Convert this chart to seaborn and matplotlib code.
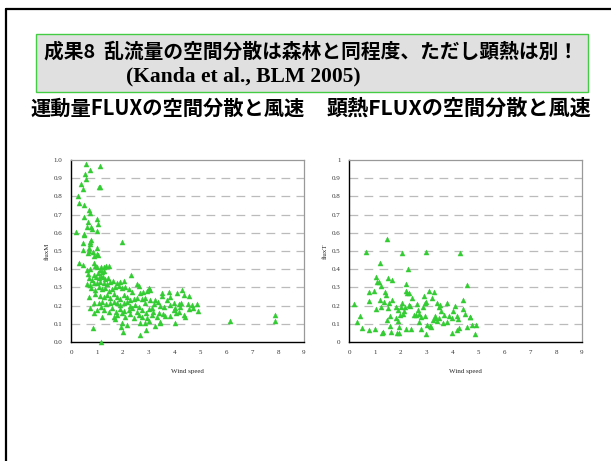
import matplotlib
matplotlib.use("Agg")
import matplotlib.pyplot as plt
import seaborn as sns
import pandas as pd
from matplotlib.lines import Line2D
from matplotlib.patches import Rectangle

# ---- data: spatial dispersion of momentum flux (fluxM) vs wind speed ----
wind_m = [
    0.59, 1.12, 0.75, 0.53, 0.59, 0.39, 0.46, 1.07, 1.11, 0.28, 0.32, 0.51, 0.68,
    0.75, 0.49, 1.00, 0.64, 1.03, 0.62, 0.77, 0.80, 1.00, 0.21, 0.49, 0.51, 0.77,
    0.75, 1.97, 0.46, 0.72, 0.69, 1.00, 0.45, 0.71, 0.85, 0.67, 1.00, 1.05, 0.88,
    0.29, 0.45, 0.87, 0.94, 1.00, 1.16, 1.26, 1.35, 1.48,
    0.62, 0.75, 0.64, 1.11, 1.20, 1.26, 1.05, 2.32,
    0.68, 0.81, 0.98, 1.07, 1.16, 1.23, 1.32, 1.41, 0.87,
    0.62, 0.75, 0.90, 1.00, 1.11, 1.26, 1.39, 1.52, 1.62, 1.77, 1.90, 2.03, 2.55,
    2.61, 3.00, 3.06,
    0.77, 0.94, 1.07, 1.20, 1.32, 1.45, 1.58, 1.71, 1.84, 1.97, 2.10, 2.23, 2.35,
    2.68, 2.80, 2.93, 3.51, 3.77, 4.09, 4.28, 4.35, 4.57,
    0.68, 0.94, 1.13, 1.26, 1.39, 1.52, 1.65, 1.77, 1.90, 2.03, 2.16, 2.29, 2.42,
    2.55, 2.74, 2.87, 3.06, 3.25, 3.35, 3.51, 3.71, 3.83, 3.99, 4.16, 4.25, 4.50,
    0.87, 1.07, 1.20, 1.36, 1.49, 1.65, 1.77, 1.90, 2.03, 2.16, 2.29, 2.48, 2.61,
    2.87, 3.13, 3.19, 3.45, 3.60, 3.83, 4.03, 4.22, 4.67, 4.86, 4.71,
    0.75, 1.00, 1.16, 1.26, 1.45, 1.58, 1.75, 1.90, 2.03, 2.23, 2.35, 2.55, 2.74,
    2.91, 3.00, 3.17, 3.38, 3.55, 3.64, 3.96, 4.16, 4.54, 4.89,
    0.87, 1.20, 1.65, 1.77, 1.97, 2.10, 2.29, 2.42, 2.61, 2.74, 2.93, 3.13, 3.32,
    3.45, 3.83, 4.07, 4.35, 4.41, 6.13,
    1.71, 1.97, 2.16, 2.68, 2.87, 3.00, 3.25, 3.45, 4.03,
    0.85, 1.93, 2.01, 2.91, 2.65, 1.16,
    7.88, 7.88,
]
flux_m = [
    0.978, 0.967, 0.945, 0.923, 0.894, 0.870, 0.839, 0.853, 0.853, 0.804, 0.766,
    0.753, 0.725, 0.710, 0.689, 0.674, 0.661, 0.648, 0.630, 0.630, 0.619, 0.612,
    0.603, 0.593, 0.588, 0.560, 0.550, 0.548, 0.542, 0.538, 0.515, 0.516, 0.505,
    0.502, 0.496, 0.487, 0.484, 0.476, 0.473,
    0.436, 0.425, 0.432, 0.418, 0.414, 0.410, 0.414, 0.418, 0.419,
    0.396, 0.399, 0.374, 0.396, 0.386, 0.392, 0.377, 0.368,
    0.350, 0.341, 0.359, 0.350, 0.363, 0.355, 0.344, 0.350, 0.368,
    0.319, 0.313, 0.326, 0.322, 0.332, 0.326, 0.319, 0.332, 0.337, 0.322, 0.332,
    0.337, 0.319, 0.308, 0.295, 0.286,
    0.295, 0.286, 0.300, 0.290, 0.295, 0.282, 0.290, 0.300, 0.308, 0.295, 0.304,
    0.290, 0.276, 0.271, 0.276, 0.282, 0.267, 0.276, 0.267, 0.286, 0.258, 0.255,
    0.249, 0.264, 0.253, 0.245, 0.258, 0.240, 0.264, 0.249, 0.234, 0.258, 0.245,
    0.231, 0.234, 0.240, 0.234, 0.240, 0.231, 0.231, 0.222, 0.253, 0.231, 0.245,
    0.212, 0.207, 0.216, 0.209,
    0.216, 0.212, 0.222, 0.209, 0.216, 0.222, 0.212, 0.203, 0.212, 0.222, 0.198,
    0.203, 0.194, 0.212, 0.185, 0.209, 0.198, 0.194, 0.203, 0.185, 0.194, 0.203,
    0.209, 0.185,
    0.185, 0.176, 0.190, 0.176, 0.167, 0.185, 0.167, 0.180, 0.172, 0.176, 0.185,
    0.167, 0.176, 0.161, 0.180, 0.167, 0.157, 0.154, 0.143, 0.176, 0.167, 0.180,
    0.172,
    0.157, 0.136, 0.139, 0.148, 0.157, 0.139, 0.154, 0.130, 0.148, 0.139, 0.130,
    0.148, 0.135, 0.112, 0.143, 0.161, 0.148, 0.139, 0.117,
    0.124, 0.103, 0.093, 0.106, 0.106, 0.117, 0.088, 0.102, 0.102,
    0.075, 0.081, 0.057, 0.066, 0.038, 0.000,
    0.150, 0.115,
]

# ---- data: spatial dispersion of sensible heat flux (fluxT) vs wind speed ----
wind_t = [
    0.20, 0.29, 0.44, 0.52, 0.67, 0.76, 0.78, 0.76, 0.97, 0.99, 1.03, 1.06, 1.10,
    1.16, 1.19, 1.23, 1.19, 1.25, 1.29, 1.34, 1.32, 1.38, 1.42, 1.45, 1.49, 1.47,
    1.51, 1.54, 1.58, 1.61, 1.58, 1.65, 1.68, 1.81, 1.83, 1.86, 1.90, 1.94, 1.91,
    1.94, 1.96, 1.99, 2.03, 2.03, 2.07, 2.12, 2.16, 2.20, 2.22, 2.20, 2.25, 2.27,
    2.30, 2.33, 2.35, 2.38, 2.43, 2.51, 2.58, 2.63, 2.67, 2.71, 2.71, 2.78, 2.79,
    2.87, 2.89, 2.93, 2.94, 2.97, 2.99, 2.99, 3.02, 3.10, 3.13, 3.16, 3.22, 3.25,
    3.28, 3.31, 3.33, 3.38, 3.41, 3.46, 3.49, 3.51, 3.55, 3.64, 3.67, 3.77, 3.80,
    3.85, 3.98, 4.00, 3.98, 4.09, 4.16, 4.18, 4.21, 4.26, 4.29, 4.39, 4.42, 4.55,
    4.57, 4.67, 4.49, 4.69, 4.75, 4.89, 4.88,
]
flux_t = [
    0.209, 0.108, 0.143, 0.079, 0.493, 0.064, 0.227, 0.273, 0.278, 0.071, 0.359,
    0.179, 0.332, 0.332, 0.432, 0.310, 0.231, 0.194, 0.049, 0.222, 0.057, 0.277,
    0.256, 0.121, 0.185, 0.564, 0.353, 0.216, 0.090, 0.057, 0.145, 0.341, 0.231,
    0.194, 0.134, 0.049, 0.115, 0.049, 0.176, 0.081, 0.148, 0.194, 0.487, 0.212,
    0.156, 0.170, 0.194, 0.317, 0.282, 0.071, 0.271, 0.399, 0.203, 0.271, 0.198,
    0.070, 0.240, 0.148, 0.148, 0.207, 0.176, 0.156, 0.112, 0.139, 0.071, 0.190,
    0.255, 0.143, 0.212, 0.222, 0.495, 0.044, 0.093, 0.280, 0.088, 0.081, 0.240,
    0.121, 0.277, 0.134, 0.143, 0.212, 0.117, 0.194, 0.130, 0.203, 0.172, 0.103,
    0.148, 0.212, 0.112, 0.143, 0.130, 0.172, 0.051, 0.200, 0.066, 0.145, 0.126,
    0.077, 0.491, 0.179, 0.231, 0.313, 0.081, 0.136, 0.154, 0.139, 0.095, 0.095,
    0.042,
]

x_ticks = [0, 1, 2, 3, 4, 5, 6, 7, 8, 9]
y_ticks = [0.0, 0.1, 0.2, 0.3, 0.4, 0.5, 0.6, 0.7, 0.8, 0.9, 1.0]
y_labels_m = ["0.0", "0.1", "0.2", "0.3", "0.4", "0.5", "0.6", "0.7", "0.8", "0.9", "1.0"]
y_labels_t = ["0", "0.1", "0.2", "0.3", "0.4", "0.5", "0.6", "0.7", "0.8", "0.9", "1"]

title_main = "成果8  乱流量の空間分散は森林と同程度、ただし顕熱は別！"
title_ref = "(Kanda et al., BLM 2005)"
subtitle_m = "運動量FLUXの空間分散と風速"
subtitle_t = "顕熱FLUXの空間分散と風速"

sns.set_style("white")
plt.rcParams["font.family"] = ["Noto Sans CJK JP", "DejaVu Sans"]

W, H = 611, 461
fig = plt.figure(figsize=(W / 100, H / 100), dpi=100)

GREEN = "#33cc33"
SERIF = ["Liberation Serif", "DejaVu Serif"]
CJK = ["Noto Sans CJK JP", "DejaVu Sans"]


def fx(px):
    return px / W


def fy(py):
    return 1 - py / H


# slide frame
fig.add_artist(Line2D([fx(6), fx(6)], [fy(9), 0], color="black", lw=1.6,
                      transform=fig.transFigure))
fig.add_artist(Line2D([fx(6), 1], [fy(9), fy(9)], color="black", lw=1.6,
                      transform=fig.transFigure))

# header box
fig.add_artist(Rectangle((fx(36), fy(92)), fx(588) - fx(36), fy(34) - fy(92),
                         transform=fig.transFigure, facecolor="#e0e0e0",
                         edgecolor="#44cc44", lw=1.0))
fig.text(fx(44), fy(52), title_main, family=CJK, weight="bold", fontsize=14.2,
         ha="left", va="center", color="black")
fig.text(fx(243), fy(76), title_ref, family=SERIF, weight="bold", fontsize=15.5,
         ha="center", va="center", color="black")
fig.text(fx(30), fy(108), subtitle_m, family=CJK, weight="bold", fontsize=14.6,
         ha="left", va="center", color="black")
fig.text(fx(327), fy(108), subtitle_t, family=CJK, weight="bold", fontsize=15.2,
         ha="left", va="center", color="black")


def panel(left_px, right_px, xs, ys, ylab, ytl):
    ax = fig.add_axes([fx(left_px), fy(342), fx(right_px) - fx(left_px), fy(160) - fy(342)])
    df = pd.DataFrame({"Wind speed": xs, ylab: ys})
    sns.scatterplot(data=df, x="Wind speed", y=ylab, ax=ax, marker="^",
                    color=GREEN, edgecolor=GREEN, linewidth=0.3, s=13,
                    zorder=3, clip_on=False)
    ax.set_xlim(0, 9)
    ax.set_ylim(0, 1)
    ax.set_xticks(x_ticks)
    ax.set_xticklabels([str(v) for v in x_ticks], family=SERIF, fontsize=5)
    ax.set_yticks(y_ticks)
    ax.set_yticklabels(ytl, family=SERIF, fontsize=5)
    ax.tick_params(axis="both", direction="in", length=2, width=0.8,
                   colors="#333333", pad=6)
    for v in y_ticks[1:-1]:
        ax.axhline(v, color="#bbbbbb", lw=0.9, dashes=(7, 5), zorder=1)
    for side in ("left", "bottom"):
        ax.spines[side].set_color("black")
        ax.spines[side].set_linewidth(1.0)
    for side in ("top", "right"):
        ax.spines[side].set_color("#999999")
        ax.spines[side].set_linewidth(0.9)
    ax.set_xlabel("Wind speed", family=SERIF, fontsize=5, labelpad=10)
    ax.set_ylabel(ylab, family=SERIF, fontsize=5, labelpad=3)
    ax.grid(False)
    return ax


panel(71, 304, wind_m, flux_m, "fluxM", y_labels_m)
panel(349, 582, wind_t, flux_t, "fluxT", y_labels_t)

fig.savefig("out.png", dpi=100, facecolor="white")
